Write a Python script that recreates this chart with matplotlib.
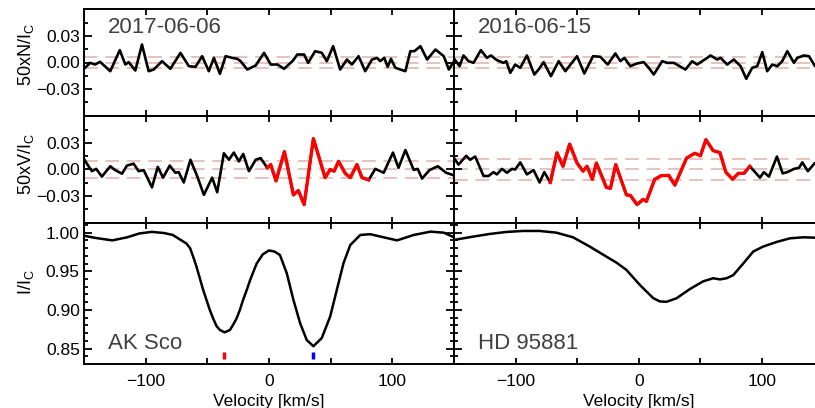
import matplotlib
matplotlib.use('Agg')
import matplotlib.pyplot as plt
import numpy as np
from matplotlib.ticker import FixedLocator, MultipleLocator, NullFormatter

plt.rcParams['font.family'] = ['Liberation Sans', 'DejaVu Sans']
plt.rcParams['mathtext.fontset'] = 'custom'
plt.rcParams['mathtext.rm'] = 'Liberation Sans'
plt.rcParams['mathtext.it'] = 'Liberation Sans:italic'
plt.rcParams['axes.unicode_minus'] = True

# ---------------- data ----------------
dates = ['2017-06-06', '2016-06-15']
stars = ['AK Sco', 'HD 95881']

# Null profiles N (x50)
n_left_v = [-150, -145, -141, -137, -128.7, -121, -116.5, -113.8, -108.4, -103, -97.6, -93.5,
            -86.7, -80, -71.8, -65, -59.6, -54.2, -48.8, -44.7, -39.8, -35.2, -29.8, -25.7,
            -23, -17.6, -10.8, -4, 1.4, 6.8, 12.2, 19, 23, 28.5, 31.7, 37.4, 42.8, 46.9,
            52, 57.7, 63.2, 67.2, 72.6, 78, 83.5, 87.6, 90.2, 93.5, 96.2, 98.9, 102.4,
            110.6, 114.6, 117.9, 122.8, 128.2, 135, 141.7, 145.8, 150]
n_left = [-0.0072, -0.0004, -0.0023, 0.0008, -0.0099, 0.0141, -0.0023, 0.0004, -0.0091, 0.0205,
          -0.0099, -0.0080, 0.0015, -0.0072, 0.0110, -0.0042, -0.0049, 0.0072, -0.0099, 0.0053,
          -0.0129, 0.0072, 0.0053, 0.0042, 0.0015, -0.0080, -0.0034, 0.0110, -0.0023, -0.0023,
          -0.0072, 0.0015, 0.0091, 0.0091, -0.0004, 0.0129, 0.0110, 0.0015, 0.0186, -0.0080,
          0.0034, -0.0023, 0.0072, -0.0099, 0.0034, 0.0053, 0.0015, 0.0053, -0.0049, 0.0042,
          -0.0060, -0.0099, 0.0129, 0.0129, 0.0186, 0.0034, 0.0148, 0.0072, -0.0080, 0.0015]

n_right_v = [-150, -145.5, -142.3, -138.2, -134.1, -128.2, -123.3, -120, -115.2, -109.8, -107.6,
             -104.3, -100.3, -96.2, -90.8, -84.8, -81.3, -77.2, -71.3, -65, -59.6, -50.1, -44.2,
             -37.1, -31.2, -25.2, -19, -14.9, -11.7, -6.8, -1.4, 4.1, 8.1, 12.2, 19, 23, 28.5,
             37.9, 43.4, 47.4, 55.6, 58.3, 63.7, 66.4, 71.8, 77.2, 82.7, 87.3, 92.1, 96.2,
             100.3, 104.3, 108.4, 112.5, 116.5, 120.6, 126, 128.7, 134.1, 138.2, 143.1, 150]
n_right = [0.0045, -0.0042, 0.0080, 0.0015, -0.0004, 0.0141, 0.0053, 0.0080, 0.0027, -0.0004,
           0.0015, -0.0118, -0.0023, -0.0061, 0.0080, -0.0137, -0.0080, 0.0004, -0.0156, 0.0015,
           -0.0099, 0.0072, -0.0125, 0.0072, 0.0065, -0.0023, 0.0103, 0.0015, 0.0053, -0.0042,
           -0.0011, 0.0004, -0.0061, -0.0137, 0.0015, -0.0004, -0.0004, -0.0080, 0.0015, -0.0023,
           0.0053, 0.0080, 0.0034, 0.0053, -0.0023, 0.0034, -0.0042, -0.0186, -0.0061, -0.0042,
           0.0118, -0.0099, -0.0023, -0.0042, 0.0015, 0.0129, -0.0004, 0.0053, 0.0080, 0.0072,
           -0.0042, -0.0010]

# Stokes V profiles (x50)
v_left_v = [-150, -146.3, -143.6, -140.1, -135.5, -128.7, -124.7, -119.2, -115.2, -109.8, -105.7,
            -101.6, -94.9, -90.2, -85.9, -80.5, -75.9, -73.2, -69.1, -63.7, -58.3, -52.8, -46.1,
            -42, -36.6, -32.5, -28.5, -24.4, -20.9, -16.3, -10.8, -6.8, -1.4, 1.4, 5.7, 12.5,
            19.8, 23.8, 28.5, 36, 45.5, 49.6, 52.8, 56.4, 61.8, 65.9, 71.3, 75.4, 80.8, 86.2,
            93, 100.5, 105, 110.6, 117.3, 120.6, 124.1, 130.1, 136.9, 143.6, 150]
v_left = [0.0119, 0.0037, -0.0019, 0.0007, -0.0081, 0.0037, -0.0007, -0.0048, 0.0044, 0.0067,
          -0.0019, -0.0007, -0.0204, 0.0030, -0.0093, 0.0044, -0.0037, -0.0030, -0.0148, 0.0111,
          -0.0074, -0.0289, -0.0093, -0.0259, 0.0185, 0.0111, 0.0193, 0.0093, 0.0178, -0.0019,
          0.0111, 0.0130, 0.0019, 0.0056, -0.0130, 0.0204, -0.0290, -0.0240, -0.0400, 0.0352,
          -0.0093, 0.0000, -0.0019, 0.0093, -0.0044, -0.0093, 0.0056, -0.0093, -0.0119, 0.0007,
          -0.0037, 0.0193, 0.0019, 0.0222, -0.0004, 0.0007, -0.0104, -0.0007, 0.0037, -0.0037,
          -0.0067]
v_left_signal = (-1.4, 80.8)     # velocity range drawn in red

v_right_v = [-150, -146.3, -140.1, -136.9, -132.8, -126, -122, -117.9, -115.2, -111.1, -107, -103,
             -100.3, -96.2, -90.8, -85.4, -80.5, -76.7, -71.8, -66.4, -61.5, -56.1, -50.1, -45.3,
             -42, -37.7, -34.4, -26.3, -23, -18.7, -10, -6.8, -1.4, 3.5, 6.2, 13, 18.4, 24.4,
             29.3, 38.8, 45.5, 50.1, 54.5, 60.4, 65.9, 70.7, 76.2, 80.8, 85.4, 90.2, 98.4,
             101.6, 105.7, 112.2, 116.8, 120.6, 126, 130.1, 132.8, 137.3, 143, 150]
v_right = [0.0130, 0.0056, 0.0156, 0.0111, 0.0148, -0.0074, -0.0074, -0.0030, -0.0056, 0.0007,
           -0.0037, 0.0007, 0.0000, 0.0081, -0.0056, -0.0007, -0.0148, -0.0030, -0.0148, 0.0190,
           0.0037, 0.0289, 0.0074, -0.0019, 0.0037, -0.0111, 0.0074, -0.0204, -0.0215, 0.0056,
           -0.0289, -0.0295, -0.0400, -0.0341, -0.0363, -0.0111, -0.0070, -0.0067, -0.0178,
           0.0130, 0.0185, 0.0156, 0.0340, 0.0215, 0.0193, -0.0030, -0.0111, -0.0044, -0.0044,
           0.0037, -0.0093, -0.0030, -0.0081, 0.0148, -0.0044, -0.0030, 0.0007, 0.0019, 0.0081,
           -0.0019, 0.0074, 0.0030]
v_right_signal = (-72.0, 90.2)

# Intensity profiles
i_left_v = [-150, -140, -127, -115, -105, -95, -85, -78, -72, -67, -64, -61.5, -58.8, -56.1, -53.4,
            -50.7, -48, -45.3, -42.5, -39.8, -36, -31.7, -29, -26.3, -23.6, -21, -18, -15, -10,
            -5, 0, 4.5, 8.9, 14.4, 19.8, 25.2, 30.6, 36, 42.8, 49.6, 55, 60.4, 65.9, 74, 82,
            92.9, 103.8, 117.3, 130.9, 141.7, 150]
i_left = [0.996, 0.993, 0.990, 0.994, 0.999, 1.001, 0.9995, 0.997, 0.991, 0.986, 0.980, 0.969,
          0.956, 0.941, 0.926, 0.913, 0.900, 0.889, 0.879, 0.874, 0.871, 0.874, 0.881, 0.889,
          0.900, 0.913, 0.926, 0.940, 0.960, 0.972, 0.977, 0.9755, 0.971, 0.9475, 0.913, 0.883,
          0.861, 0.853, 0.8636, 0.8915, 0.926, 0.9605, 0.984, 0.997, 0.998, 0.994, 0.990,
          0.997, 1.0013, 1.000, 0.994]

i_right_v = [-150, -134.7, -121.1, -107.6, -94, -80.5, -66.9, -53.4, -39.8, -26.3, -18.2, -10,
             0.8, 11.7, 17.1, 22.5, 30.6, 41.5, 52.3, 60.4, 66, 71.3, 76.7, 84.8, 92.9, 101,
             112, 122.8, 133.6, 143, 150]
i_right = [0.9906, 0.9948, 0.9983, 1.0009, 1.0022, 1.0022, 1.000, 0.994, 0.982, 0.969, 0.9613,
           0.9518, 0.9325, 0.9153, 0.911, 0.9105, 0.915, 0.927, 0.937, 0.941, 0.9395, 0.941,
           0.945, 0.960, 0.9755, 0.982, 0.988, 0.9927, 0.994, 0.9935, 0.9935]

# mean +/- sigma reference lines
n_sigma = [0.006, 0.006]
v_sigma = [0.0098, 0.0115]

# component velocity markers (AK Sco)
comp_v = [-36.6, 36.0]
comp_col = ['#ff0000', '#0000ff']
comp_lo, comp_hi = 0.836, 0.845

# ---------------- figure ----------------
W, H = 815, 408
fig = plt.figure(figsize=(W / 100, H / 100), dpi=100)

def add_ax(x0, y0, x1, y1):
    return fig.add_axes([x0 / W, 1 - y1 / H, (x1 - x0) / W, (y1 - y0) / H])

cols = [(84, 454), (454, 823.5)]
rows = [(9, 116), (116, 223), (223, 364)]
axes = [[add_ax(c[0], r[0], c[1], r[1]) for c in cols] for r in rows]

gray = '#404040'
dash_col = '#dcb2b2'
fs_tick = 12.5

def style(ax, row, col):
    ax.set_xlim(-150, 150)
    ax.xaxis.set_major_locator(FixedLocator([-100, 0, 100]))
    ax.xaxis.set_minor_locator(FixedLocator([-50, 50]))
    if row < 2:
        ax.set_ylim(-0.061, 0.061)
        ax.yaxis.set_major_locator(FixedLocator([-0.03, 0.0, 0.03]))
        ax.yaxis.set_minor_locator(FixedLocator([-0.045, -0.015, 0.015, 0.045]))
        ax.yaxis.set_major_formatter(matplotlib.ticker.FuncFormatter(lambda y, p: f'{y:.2f}'.replace('-', '\u2212')))
    else:
        ax.set_ylim(0.830, 1.0125)
        ax.yaxis.set_major_locator(MultipleLocator(0.05))
        ax.yaxis.set_minor_locator(MultipleLocator(0.01))
        ax.yaxis.set_major_formatter(matplotlib.ticker.FuncFormatter(lambda y, p: f'{y:.2f}'))
    ax.tick_params(axis='both', which='both', direction='in', top=True, right=True,
                   width=1.3, colors='black', labelsize=fs_tick)
    ax.tick_params(axis='x', which='both', length=4.5, pad=7)
    ax.tick_params(axis='y', which='major', length=6, pad=3)
    ax.tick_params(axis='y', which='minor', length=3)
    if row < 2:
        ax.xaxis.set_major_formatter(NullFormatter())
    else:
        ax.xaxis.set_major_formatter(matplotlib.ticker.FuncFormatter(lambda x, p: f'{x:.0f}'.replace('-', '\u2212')))
    if col == 1:
        ax.yaxis.set_major_formatter(NullFormatter())
    for s in ax.spines.values():
        s.set_linewidth(1.4)

for r in range(3):
    for c in range(2):
        style(axes[r][c], r, c)

# N panels
for c, (vv, yy) in enumerate([(n_left_v, n_left), (n_right_v, n_right)]):
    ax = axes[0][c]
    for lev in (-n_sigma[c], 0.0, n_sigma[c]):
        ax.axhline(lev, color=dash_col, lw=1.1, dashes=(9, 5), zorder=1)
    ax.plot(vv, yy, color='black', lw=1.9, zorder=3, solid_joinstyle='round')
    ax.text(0.065, 0.78, dates[c], transform=ax.transAxes, fontsize=16, color=gray,
            ha='left', va='baseline')

# V panels
for c, (vv, yy, rng) in enumerate([(v_left_v, v_left, v_left_signal),
                                   (v_right_v, v_right, v_right_signal)]):
    ax = axes[1][c]
    for lev in (-v_sigma[c], 0.0, v_sigma[c]):
        ax.axhline(lev, color=dash_col, lw=1.1, dashes=(9, 5), zorder=1)
    vv = np.asarray(vv); yy = np.asarray(yy)
    ax.plot(vv, yy, color='black', lw=1.9, zorder=3, solid_joinstyle='round')
    m = (vv >= rng[0]) & (vv <= rng[1])
    ax.plot(vv[m], yy[m], color='#ff0000', lw=2.4, zorder=4, solid_joinstyle='round')

# I panels
for c, (vv, yy) in enumerate([(i_left_v, i_left), (i_right_v, i_right)]):
    ax = axes[2][c]
    ax.plot(vv, yy, color='black', lw=1.8, zorder=3, solid_joinstyle='round')
    ax.text(0.066, 0.106, stars[c], transform=ax.transAxes, fontsize=16, color=gray,
            ha='left', va='baseline')
    ax.set_xlabel('Velocity [km/s]', fontsize=12.5, labelpad=3.5)

axes[2][0].vlines(comp_v, comp_lo, comp_hi, colors=comp_col, lw=2.5)

ylabels = [r'50xN/I$_\mathrm{C}$', r'50xV/I$_\mathrm{C}$', r'I/I$_\mathrm{C}$']
ly = [0.57, 0.55, 0.578]
for r in range(3):
    ax = axes[r][0]
    ax.set_ylabel(ylabels[r], fontsize=13)
    ax.yaxis.label.set_verticalalignment('center')
    ax.yaxis.set_label_coords(-0.158, ly[r])

fig.savefig('out.png', dpi=100)
